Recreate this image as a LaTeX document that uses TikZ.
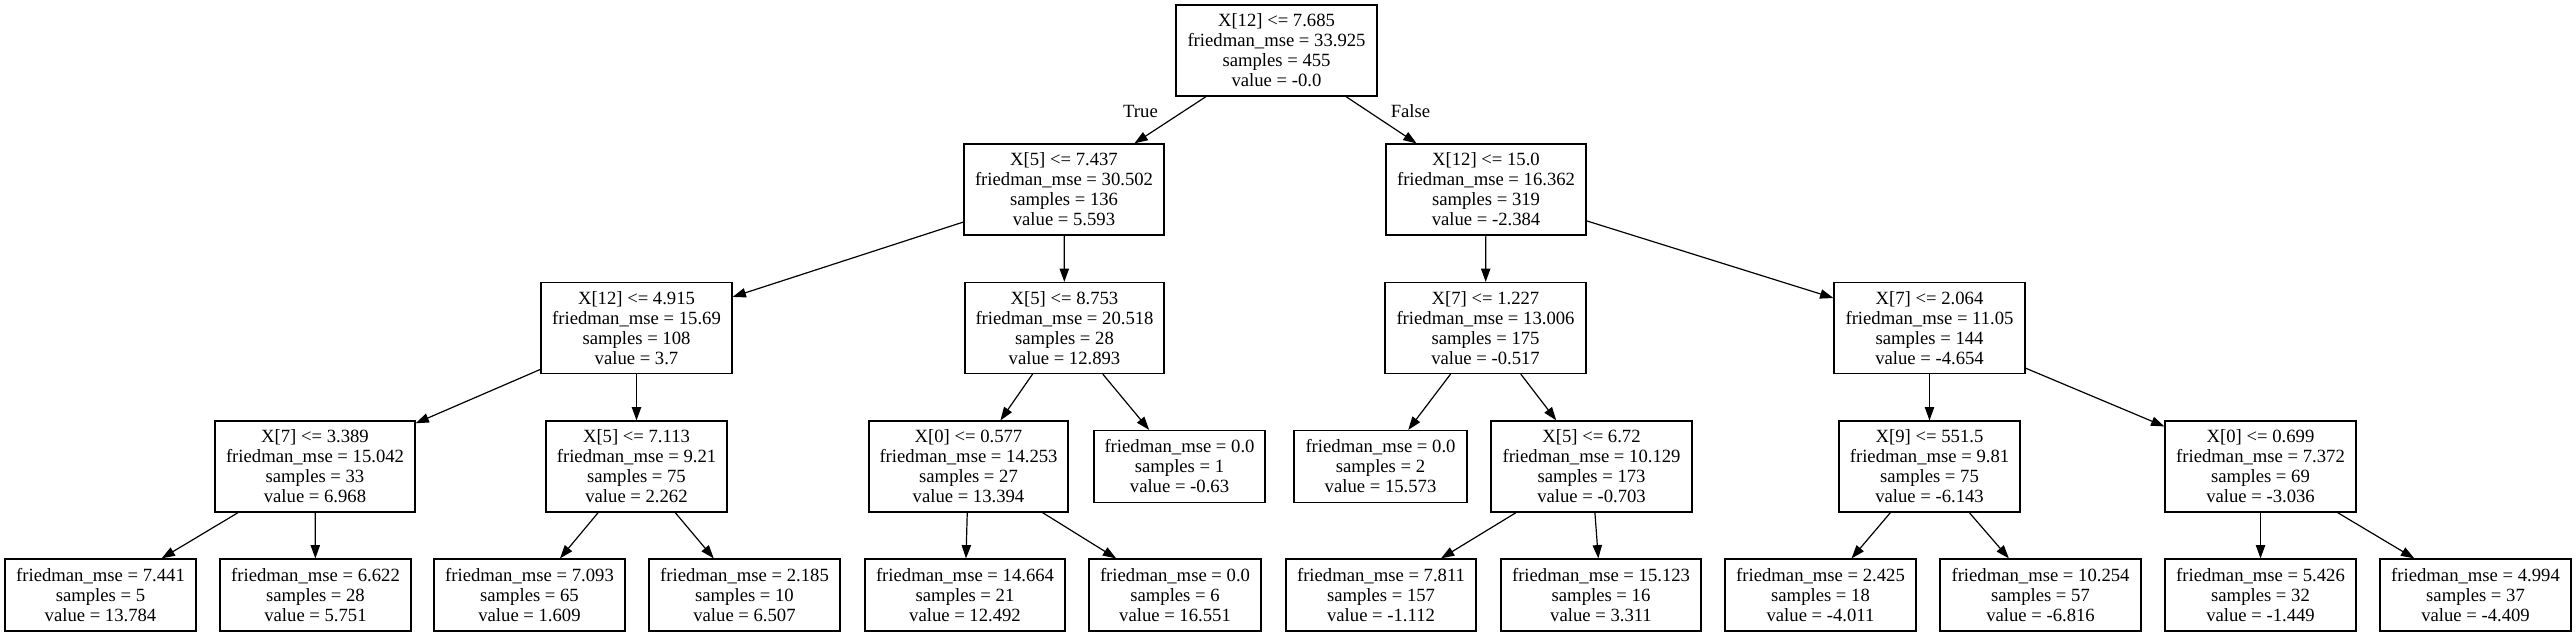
\documentclass[tikz,border=0pt]{standalone}
\usepackage{fontspec}
\setmainfont{Liberation Serif}
\usetikzlibrary{arrows.meta}
\tikzset{
  box/.style={draw=black, line width=0.9pt, rectangle, align=center, inner xsep=2pt, inner ysep=0pt,
    font=\fontsize{14pt}{15pt}\selectfont, minimum height=68.25pt},
  leaf/.style={box, minimum height=54pt},
  edge/.style={draw=black, line width=0.9pt, -{Triangle[length=10pt,width=7pt]}},
  elabel/.style={font=\fontsize{14pt}{15pt}\selectfont, anchor=base, inner sep=0pt}
}
\begin{document}
\begin{tikzpicture}[x=0.75pt,y=-0.75pt]
\fill[white] (0,0) rectangle (2576,636);
\useasboundingbox (0,0) rectangle (2576,636);
% level 0
\node[box, minimum width=150.75pt] (r) at (1276.5,50.5) {X[12] <= 7.685\\friedman\_mse = 33.925\\samples = 455\\value = -0.0};
% level 1
\node[box, minimum width=150pt] (n1) at (1064,189.5) {X[5] <= 7.437\\friedman\_mse = 30.502\\samples = 136\\value = 5.593};
\node[box, minimum width=150pt] (n2) at (1486,189.5) {X[12] <= 15.0\\friedman\_mse = 16.362\\samples = 319\\value = -2.384};
% level 2
\node[box, minimum width=143.25pt] (a) at (636.5,328) {X[12] <= 4.915\\friedman\_mse = 15.69\\samples = 108\\value = 3.7};
\node[box, minimum width=149.25pt] (b) at (1064.5,328) {X[5] <= 8.753\\friedman\_mse = 20.518\\samples = 28\\value = 12.893};
\node[box, minimum width=150.75pt] (c) at (1485.5,328) {X[7] <= 1.227\\friedman\_mse = 13.006\\samples = 175\\value = -0.517};
\node[box, minimum width=143.25pt] (d) at (1929.5,328) {X[7] <= 2.064\\friedman\_mse = 11.05\\samples = 144\\value = -4.654};
% level 3
\node[box, minimum width=150pt] (e) at (315,466.5) {X[7] <= 3.389\\friedman\_mse = 15.042\\samples = 33\\value = 6.968};
\node[box, minimum width=135.75pt] (f) at (636.5,466.5) {X[5] <= 7.113\\friedman\_mse = 9.21\\samples = 75\\value = 2.262};
\node[box, minimum width=149.25pt] (g) at (968.5,466.5) {X[0] <= 0.577\\friedman\_mse = 14.253\\samples = 27\\value = 13.394};
\node[leaf, minimum width=128.25pt] (h) at (1179.5,466.5) {friedman\_mse = 0.0\\samples = 1\\value = -0.63};
\node[leaf, minimum width=129.75pt] (i) at (1380.5,466.5) {friedman\_mse = 0.0\\samples = 2\\value = 15.573};
\node[box, minimum width=150.75pt] (j) at (1591.5,466.5) {X[5] <= 6.72\\friedman\_mse = 10.129\\samples = 173\\value = -0.703};
\node[box, minimum width=135.75pt] (k) at (1929.5,466.5) {X[9] <= 551.5\\friedman\_mse = 9.81\\samples = 75\\value = -6.143};
\node[box, minimum width=143.25pt] (l) at (2260.5,466.5) {X[0] <= 0.699\\friedman\_mse = 7.372\\samples = 69\\value = -3.036};
% level 4
\node[leaf, minimum width=143.25pt] (p1) at (100.5,595) {friedman\_mse = 7.441\\samples = 5\\value = 13.784};
\node[leaf, minimum width=143.25pt] (p2) at (315.5,595) {friedman\_mse = 6.622\\samples = 28\\value = 5.751};
\node[leaf, minimum width=143.25pt] (p3) at (529.5,595) {friedman\_mse = 7.093\\samples = 65\\value = 1.609};
\node[leaf, minimum width=143.25pt] (p4) at (744.5,595) {friedman\_mse = 2.185\\samples = 10\\value = 6.507};
\node[leaf, minimum width=150pt] (p5) at (965,595) {friedman\_mse = 14.664\\samples = 21\\value = 12.492};
\node[leaf, minimum width=129pt] (p6) at (1175,595) {friedman\_mse = 0.0\\samples = 6\\value = 16.551};
\node[leaf, minimum width=142.5pt] (p7) at (1381,595) {friedman\_mse = 7.811\\samples = 157\\value = -1.112};
\node[leaf, minimum width=150pt] (p8) at (1601,595) {friedman\_mse = 15.123\\samples = 16\\value = 3.311};
\node[leaf, minimum width=143.25pt] (p9) at (1820.5,595) {friedman\_mse = 2.425\\samples = 18\\value = -4.011};
\node[leaf, minimum width=150.75pt] (p10) at (2040.5,595) {friedman\_mse = 10.254\\samples = 57\\value = -6.816};
\node[leaf, minimum width=143.25pt] (p11) at (2260.5,595) {friedman\_mse = 5.426\\samples = 32\\value = -1.449};
\node[leaf, minimum width=143.25pt] (p12) at (2475.5,595) {friedman\_mse = 4.994\\samples = 37\\value = -4.409};
% edges
\draw[edge] (r) -- (n1);
\draw[edge] (r) -- (n2);
\node[elabel] (lt) at (1140.5,117) {True};
\node[elabel] (lf) at (1410.5,117) {False};
\draw[edge] (n1) -- (a);
\draw[edge] (n1) -- (b);
\draw[edge] (n2) -- (c);
\draw[edge] (n2) -- (d);
\draw[edge] (a) -- (e);
\draw[edge] (a) -- (f);
\draw[edge] (b) -- (g);
\draw[edge] (b) -- (h);
\draw[edge] (c) -- (i);
\draw[edge] (c) -- (j);
\draw[edge] (d) -- (k);
\draw[edge] (d) -- (l);
\draw[edge] (e) -- (p1);
\draw[edge] (e) -- (p2);
\draw[edge] (f) -- (p3);
\draw[edge] (f) -- (p4);
\draw[edge] (g) -- (p5);
\draw[edge] (g) -- (p6);
\draw[edge] (j) -- (p7);
\draw[edge] (j) -- (p8);
\draw[edge] (k) -- (p9);
\draw[edge] (k) -- (p10);
\draw[edge] (l) -- (p11);
\draw[edge] (l) -- (p12);
\end{tikzpicture}
\end{document}
